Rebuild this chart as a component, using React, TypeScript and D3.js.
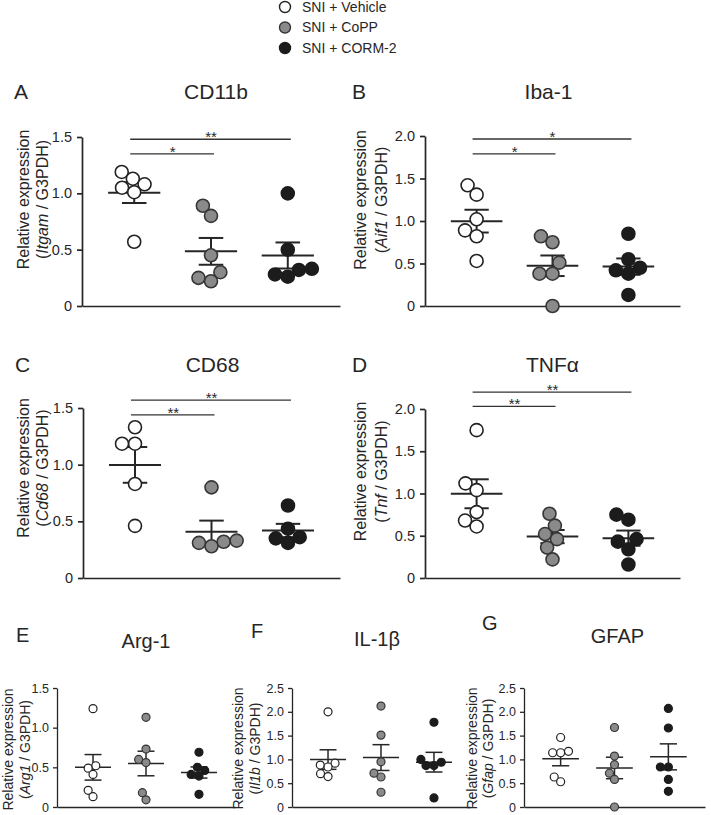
import { useEffect, useRef } from "react";
import * as d3 from "d3";

const groupNames = ["SNI + Vehicle", "SNI + CoPP", "SNI + CORM-2"];

// values per group: Vehicle, CoPP, CORM-2
const cd11bValues = [
  [1.19, 1.13, 1.08, 1.05, 1.01, 0.57],
  [0.89, 0.8, 0.45, 0.3, 0.22, 0.25],
  [1.0, 0.5, 0.32, 0.26, 0.28, 0.33],
];
const iba1Values = [
  [1.42, 1.31, 1.02, 0.89, 0.82, 0.53],
  [0.82, 0.75, 0.51, 0.38, 0.38, 0.0],
  [0.85, 0.55, 0.42, 0.45, 0.38, 0.13],
];
const cd68Values = [
  [1.33, 1.185, 1.185, 0.83, 0.46],
  [0.8, 0.32, 0.28, 0.31, 0.33],
  [0.64, 0.435, 0.36, 0.35, 0.31],
];
const tnfValues = [
  [1.75, 1.12, 1.04, 0.78, 0.68, 0.61],
  [0.76, 0.62, 0.52, 0.46, 0.36, 0.22],
  [0.75, 0.69, 0.46, 0.43, 0.34, 0.16],
];
const arg1Values = [
  [1.24, 0.52, 0.49, 0.41, 0.21, 0.13],
  [1.13, 0.73, 0.6, 0.56, 0.18, 0.09],
  [0.69, 0.5, 0.46, 0.41, 0.39, 0.16],
];
const il1bValues = [
  [2.0, 0.92, 0.88, 0.84, 0.7, 0.64],
  [2.12, 1.51, 0.95, 0.71, 0.63, 0.31],
  [1.78, 1.0, 0.94, 0.87, 0.87, 0.19],
];
const gfapValues = [
  [1.46, 1.17, 1.14, 1.14, 0.63, 0.53],
  [1.67, 1.07, 0.89, 0.71, 0.58, 0.0],
  [2.07, 1.66, 0.84, 0.84, 0.58, 0.33],
];

const ticks15 = [0, 0.5, 1.0, 1.5];
const ticks20 = [0, 0.5, 1.0, 1.5, 2.0];
const ticks25 = [0, 0.5, 1.0, 1.5, 2.0, 2.5];

// significance brackets: from group a to group b at value level y
const cd11bSig = [
  { a: 0, b: 1, y: 1.35, label: "*" },
  { a: 0, b: 2, y: 1.48, label: "**" },
];
const iba1Sig = [
  { a: 0, b: 1, y: 1.79, label: "*" },
  { a: 0, b: 2, y: 1.965, label: "*" },
];
const cd68Sig = [
  { a: 0, b: 1, y: 1.44, label: "**" },
  { a: 0, b: 2, y: 1.57, label: "**" },
];
const tnfSig = [
  { a: 0, b: 1, y: 2.03, label: "**" },
  { a: 0, b: 2, y: 2.2, label: "**" },
];

const FONT = "'Liberation Sans', Arial, Helvetica, sans-serif";
const INK = "#262626";
const fills = ["#ffffff", "#8a8a8a", "#1c1c1c"];
const strokes = ["#222", "#363636", "#1c1c1c"];

// simple dodge beeswarm, offsets in px
function swarm(ys: number[], r: number) {
  const order = d3.range(ys.length).sort((i, j) => ys[j] - ys[i]);
  const placed: { x: number; y: number }[] = [];
  const out = new Array(ys.length).fill(0);
  const D = 2 * r;
  for (const i of order) {
    const yi = ys[i];
    const near = placed.filter(p => Math.abs(p.y - yi) < D);
    const cands = [0];
    near.forEach(p => {
      const dx = Math.sqrt(D * D - (p.y - yi) ** 2);
      cands.push(p.x - dx, p.x + dx);
    });
    cands.sort((a, b) => Math.abs(a) - Math.abs(b) || a - b);
    const ok = cands.find(c =>
      near.every(p => Math.hypot(p.x - c, p.y - yi) >= D - 0.01)
    );
    out[i] = ok ?? 0;
    placed.push({ x: out[i], y: yi });
  }
  return out;
}

function drawPanel(svg: any, p: any) {
  const big = p.big;
  const r = big ? 6.5 : 4;
  const y = d3.scaleLinear().domain([0, p.max]).range([p.yBot, p.yTop]);
  const x = d3.scalePoint<number>().domain([0, 1, 2]).range([p.x0, p.x1]).padding(0.68);
  const step = x.step();
  const g = svg.append("g");

  // panel letter + title
  g.append("text").attr("x", p.letterX).attr("y", p.letterY)
    .attr("font-size", big ? 21 : 20).attr("fill", INK).text(p.letter);
  g.append("text").attr("x", x(1)! + (p.titleDx || 0)).attr("y", p.titleY)
    .attr("text-anchor", "middle").attr("font-size", big ? 21 : 20).attr("fill", INK)
    .text(p.title);

  // axes
  const yAxis = d3.axisLeft(y).tickValues(p.ticks).tickSize(big ? 5 : 4)
    .tickSizeOuter(0).tickPadding(big ? 5 : 4)
    .tickFormat((d: any) => (d === 0 ? "0" : d3.format(".1f")(d)));
  const ya = g.append("g").attr("transform", `translate(${p.x0},0)`).call(yAxis);
  ya.attr("font-family", FONT).attr("font-size", big ? 14.5 : 12.5);
  ya.selectAll("text").attr("fill", INK);
  ya.selectAll("line,path").attr("stroke", INK).attr("stroke-width", big ? 1.7 : 1.3);

  const xAxis = d3.axisBottom(x).tickValues([]).tickSizeOuter(0);
  const xa = g.append("g").attr("transform", `translate(0,${p.yBot})`).call(xAxis);
  xa.selectAll("path").attr("stroke", INK).attr("stroke-width", big ? 1.7 : 1.3);

  // y label (two lines)
  const lblSize = big ? 16 : 14;
  const cy = (p.yTop + p.yBot) / 2 + p.labelDy;
  g.append("text")
    .attr("transform", `translate(${p.x0 + p.label1Dx},${cy}) rotate(-90)`)
    .attr("text-anchor", "middle").attr("dy", "0.35em")
    .attr("font-size", lblSize).attr("fill", INK).text("Relative expression");
  const l2 = g.append("text")
    .attr("transform", `translate(${p.x0 + p.label2Dx},${cy}) rotate(-90)`)
    .attr("text-anchor", "middle").attr("dy", "0.35em")
    .attr("font-size", lblSize).attr("fill", INK);
  l2.append("tspan").text("(");
  l2.append("tspan").attr("font-style", "italic").text(p.gene);
  l2.append("tspan").text(" / G3PDH)");

  // significance
  (p.sig || []).forEach((s: any) => {
    const yy = y(s.y);
    g.append("line").attr("x1", x(s.a)! - 4).attr("x2", x(s.b)! + 3)
      .attr("y1", yy).attr("y2", yy).attr("stroke", "#333").attr("stroke-width", 1.3);
    g.append("text").attr("x", (x(s.a)! + x(s.b)!) / 2).attr("y", yy + 3)
      .attr("text-anchor", "middle").attr("font-size", 15).attr("fill", INK).text(s.label);
  });

  // mean +/- SEM, then points
  p.values.forEach((vals: number[], gi: number) => {
    const cx = x(gi)!;
    const m = d3.mean(vals)!;
    const sem = d3.deviation(vals)! / Math.sqrt(vals.length);
    const lw = big ? 2 : 1.5;
    g.append("line").attr("x1", cx - step * 0.34).attr("x2", cx + step * 0.34)
      .attr("y1", y(m)).attr("y2", y(m)).attr("stroke", INK).attr("stroke-width", lw);
    g.append("line").attr("x1", cx).attr("x2", cx)
      .attr("y1", y(m - sem)).attr("y2", y(m + sem)).attr("stroke", INK).attr("stroke-width", lw);
    [m - sem, m + sem].forEach(v =>
      g.append("line").attr("x1", cx - step * 0.16).attr("x2", cx + step * 0.16)
        .attr("y1", y(v)).attr("y2", y(v)).attr("stroke", INK).attr("stroke-width", lw)
    );
    const ys = vals.map(v => y(v));
    const dx = swarm(ys, r);
    g.selectAll(null).data(vals).enter().append("circle")
      .attr("cx", (_: number, i: number) => cx + dx[i])
      .attr("cy", (d: number) => y(d))
      .attr("r", r)
      .attr("fill", fills[gi])
      .attr("stroke", strokes[gi])
      .attr("stroke-width", big ? 1.6 : 1.2);
  });
}

export default function App() {
  const ref = useRef<SVGSVGElement>(null);

  useEffect(() => {
    if (!ref.current) return;
    const svg = d3.select(ref.current);
    svg.selectAll("*").remove();

    // legend
    const lg = svg.append("g");
    const legY = d3.scalePoint<number>().domain([0, 1, 2]).range([7, 48]);
    groupNames.forEach((name, i) => {
      lg.append("circle").attr("cx", 285).attr("cy", legY(i)!).attr("r", 5.5)
        .attr("fill", fills[i]).attr("stroke", strokes[i]).attr("stroke-width", 1.4);
      lg.append("text").attr("x", 302).attr("y", legY(i)!).attr("dy", "0.35em")
        .attr("font-size", 14).attr("fill", INK).text(name);
    });

    const panels = [
      { letter: "A", title: "CD11b", gene: "Itgam", values: cd11bValues, ticks: ticks15, max: 1.5, sig: cd11bSig,
        big: true, x0: 82, x1: 340, yTop: 137, yBot: 306, letterX: 14, letterY: 99, titleY: 99, titleDx: 5,
        label1Dx: -59, label2Dx: -40, labelDy: -22 },
      { letter: "B", title: "Iba-1", gene: "Aif1", values: iba1Values, ticks: ticks20, max: 2, sig: iba1Sig,
        big: true, x0: 425, x1: 680, yTop: 136, yBot: 306, letterX: 352, letterY: 99, titleY: 99, titleDx: -4,
        label1Dx: -65, label2Dx: -44, labelDy: -21 },
      { letter: "C", title: "CD68", gene: "Cd68", values: cd68Values, ticks: ticks15, max: 1.5, sig: cd68Sig,
        big: true, x0: 83, x1: 340, yTop: 408, yBot: 578, letterX: 15, letterY: 372, titleY: 372, titleDx: 1,
        label1Dx: -60, label2Dx: -41, labelDy: -25 },
      { letter: "D", title: "TNFα", gene: "Tnf", values: tnfValues, ticks: ticks20, max: 2, sig: tnfSig,
        big: true, x0: 425, x1: 680, yTop: 409, yBot: 578, letterX: 352, letterY: 372, titleY: 372, titleDx: 0,
        label1Dx: -65, label2Dx: -44, labelDy: -22 },
      { letter: "E", title: "Arg-1", gene: "Arg1", values: arg1Values, ticks: ticks15, max: 1.5,
        big: false, x0: 57, x1: 235, yTop: 688, yBot: 807, letterX: 16, letterY: 642, titleY: 648, titleDx: 0,
        label1Dx: -49, label2Dx: -32, labelDy: 2 },
      { letter: "F", title: "IL-1β", gene: "Il1b", values: il1bValues, ticks: ticks25, max: 2.5,
        big: false, x0: 292, x1: 470, yTop: 688, yBot: 807, letterX: 251, letterY: 638, titleY: 646, titleDx: -4,
        label1Dx: -54, label2Dx: -37, labelDy: 1 },
      { letter: "G", title: "GFAP", gene: "Gfap", values: gfapValues, ticks: ticks25, max: 2.5,
        big: false, x0: 524, x1: 705, yTop: 688, yBot: 807, letterX: 482, letterY: 630, titleY: 643, titleDx: 3,
        label1Dx: -52, label2Dx: -36, labelDy: 1 },
    ];
    panels.forEach(p => drawPanel(svg, p));
  }, []);

  return (
    <svg
      ref={ref}
      width={711}
      height={815}
      style={{ position: "absolute", left: 0, top: 0, background: "#fff", fontFamily: FONT }}
    />
  );
}
